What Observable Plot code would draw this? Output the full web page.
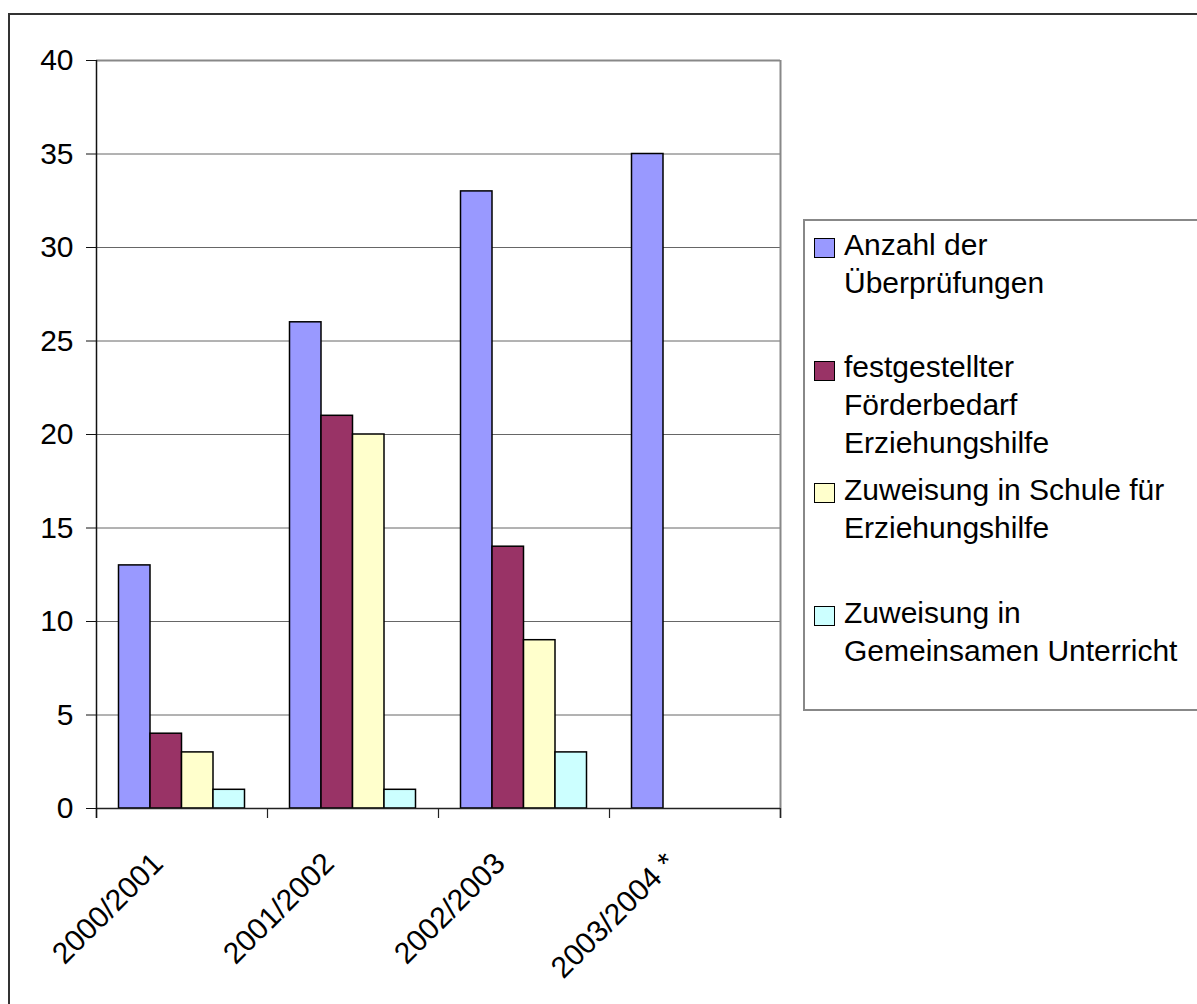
<!DOCTYPE html>
<html><head><meta charset="utf-8">
<script src="https://cdn.jsdelivr.net/npm/d3@7"></script>
<script src="https://cdn.jsdelivr.net/npm/@observablehq/plot@0.6"></script>
<style>
body{margin:0;background:#fff;font-family:"Liberation Sans",Arial,sans-serif;}
#wrap{position:relative;width:1197px;height:1004px;overflow:hidden;background:#fff;}
#chart{position:absolute;left:0;top:0;}
#border{position:absolute;left:8px;top:13px;width:1300px;height:1100px;border:2px solid #333;box-sizing:border-box;pointer-events:none;}
#legend{position:absolute;left:803px;top:219px;width:430px;height:492px;border:2px solid #888;box-sizing:border-box;background:#fff;}
.entry{position:absolute;left:844px;font-size:30px;line-height:38px;color:#000;white-space:nowrap;}
.sw{position:absolute;left:814px;width:21px;height:20px;box-sizing:border-box;border:1.5px solid #000;}
</style>
</head><body>
<div id="wrap"><div id="chart"></div><div id="legend"></div><div id="border"></div></div>
<script>
// ---- data ----
const years = ["2000/2001", "2001/2002", "2002/2003", "2003/2004 *"];
const seriesNames = [
  "Anzahl der Überprüfungen",
  "festgestellter Förderbedarf Erziehungshilfe",
  "Zuweisung in Schule für Erziehungshilfe",
  "Zuweisung in Gemeinsamen Unterricht"
];
const legendLines = [
  ["Anzahl der", "Überprüfungen"],
  ["festgestellter", "Förderbedarf", "Erziehungshilfe"],
  ["Zuweisung in Schule für", "Erziehungshilfe"],
  ["Zuweisung in", "Gemeinsamen Unterricht"]
];
const anzahl = [13, 26, 33, 35];
const foerderbedarf = [4, 21, 14, null];
const zuweisungSchule = [3, 20, 9, null];
const zuweisungGU = [1, 1, 3, null];
const colors = ["#9999FF", "#993366", "#FFFFCC", "#CCFFFF"];
const yTicks = [0, 5, 10, 15, 20, 25, 30, 35, 40];

// ---- build table ----
const seriesValues = [anzahl, foerderbedarf, zuweisungSchule, zuweisungGU];
const nS = seriesNames.length;
const bw = 31.5 / 171;              // bar width as share of a category band
const pad = (1 - nS * bw) / 2;
const bars = [];
years.forEach((yr, i) => {
  seriesValues.forEach((vals, k) => {
    if (vals[i] != null) bars.push({year: yr, series: seriesNames[k], value: vals[i], x1: i + pad + k * bw, x2: i + pad + (k + 1) * bw});
  });
});

const plot = Plot.plot({
  width: 1197, height: 1004,
  marginLeft: 96, marginRight: 417, marginTop: 60, marginBottom: 196,
  style: {fontFamily: "'Liberation Sans', Arial, sans-serif", fontSize: "30px", background: "transparent", overflow: "visible"},
  x: {type: "linear", domain: [0, years.length], axis: null},
  y: {domain: [0, 40], axis: null},
  color: {domain: seriesNames, range: colors},
  marks: [
    Plot.gridY(yTicks, {stroke: "#666", strokeOpacity: 1, strokeWidth: 1}),
    Plot.ruleY([40], {stroke: "#888", strokeWidth: 2}),
    Plot.ruleX([years.length], {y1: 40, y2: 0, insetBottom: -10, stroke: "#888", strokeWidth: 2}),
    Plot.rectY(bars, {x1: "x1", x2: "x2", y1: 0, y2: "value", fill: "series", stroke: "#000", strokeWidth: 1.5}),
    Plot.ruleY([0], {stroke: "#222", strokeWidth: 1.5}),
    Plot.axisX(d3.range(years.length + 1), {tickSize: 10, tickFormat: () => "", label: null, stroke: "#222", strokeWidth: 1.2}),
    Plot.ruleX([0], {y1: 40, y2: 0, insetBottom: -10, stroke: "#111", strokeWidth: 1.5}),
    Plot.axisY(yTicks, {tickSize: 10, tickPadding: 13, fontSize: 30, label: null, stroke: "#111", fill: "#000"}),
    Plot.text(years, {x: (d, i) => i + 0.5, y: () => 0, text: d => d, rotate: -45, textAnchor: "end", dx: -24, dy: 50, fontSize: 30, fill: "#000"})
  ]
});
document.getElementById("chart").appendChild(plot);

// ---- legend ----
const wrap = document.getElementById("wrap");
const step = 122.7;
legendLines.forEach((lines, i) => {
  const sw = document.createElement("div");
  sw.className = "sw";
  sw.style.top = (238 + i * step) + "px";
  sw.style.background = colors[i];
  wrap.appendChild(sw);
  const t = document.createElement("div");
  t.className = "entry";
  t.style.top = (225.6 + i * step) + "px";
  t.innerHTML = lines.join("<br>");
  wrap.appendChild(t);
});
</script>
</body></html>
